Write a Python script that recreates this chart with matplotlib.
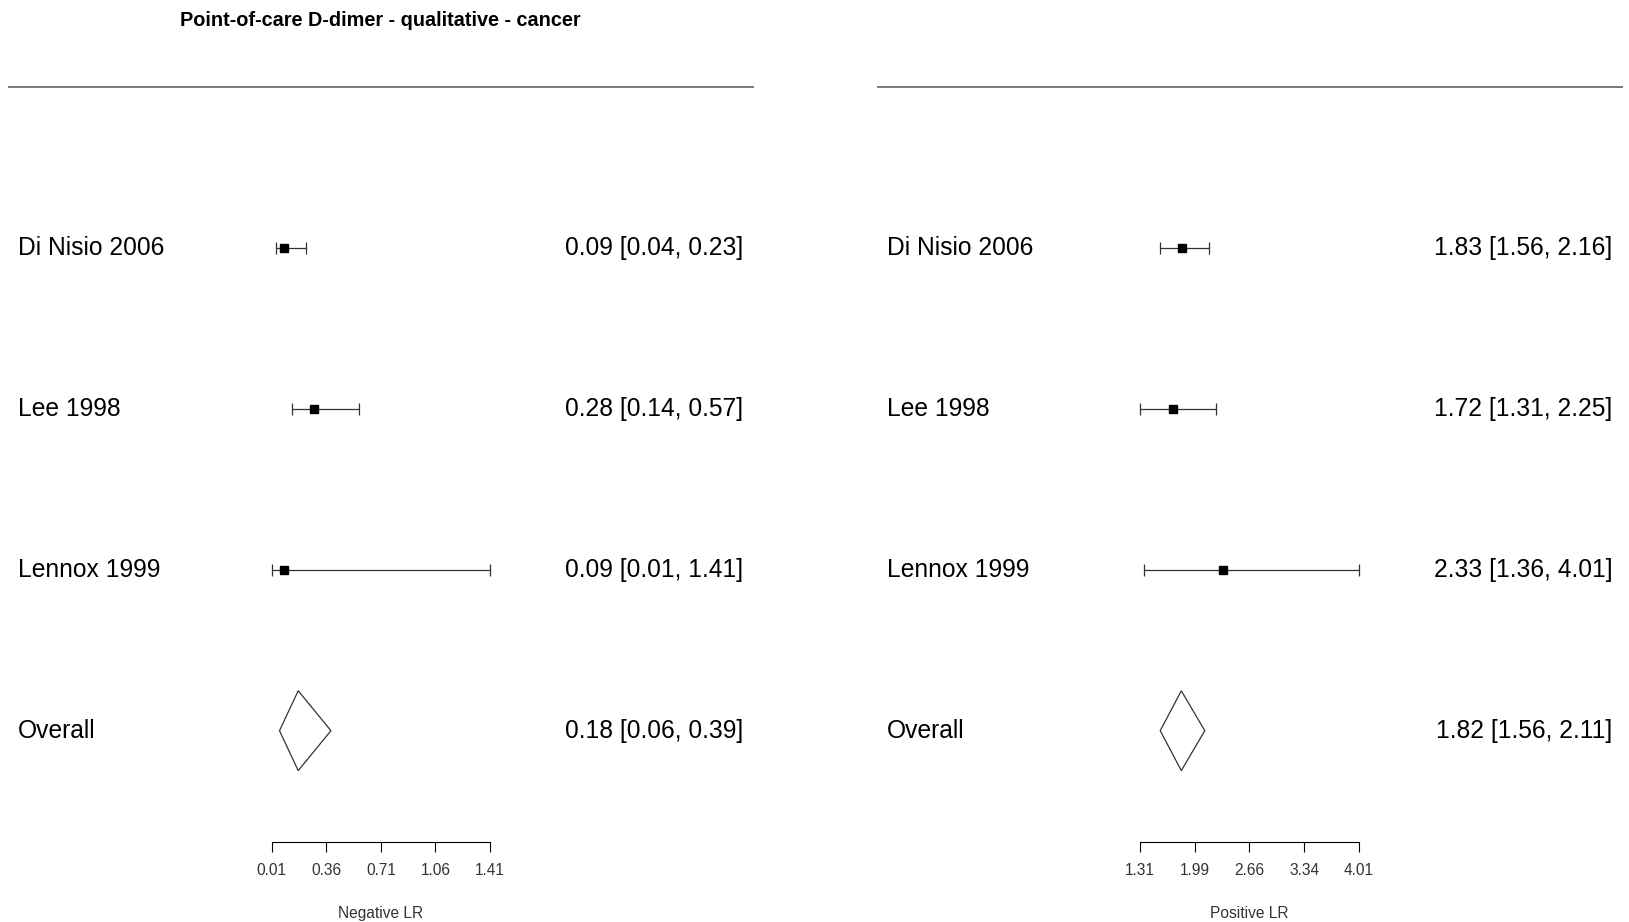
import matplotlib
matplotlib.use("Agg")
import matplotlib.pyplot as plt
from matplotlib.patches import Polygon

plt.rcParams['font.family'] = ['Liberation Sans', 'DejaVu Sans']

title = "Point-of-care D-dimer - qualitative - cancer"
studies = ["Di Nisio 2006", "Lee 1998", "Lennox 1999"]
rows = [4, 3, 2]  # top to bottom, overall at row 1

# negative LR
neg_est = [0.09, 0.28, 0.09]
neg_lo = [0.04, 0.14, 0.01]
neg_hi = [0.23, 0.57, 1.41]
neg_overall = [0.18, 0.06, 0.39]
neg_ticks = [0.01, 0.36, 0.71, 1.06, 1.41]

# positive LR
pos_est = [1.83, 1.72, 2.33]
pos_lo = [1.56, 1.31, 1.36]
pos_hi = [2.16, 2.25, 4.01]
pos_overall = [1.82, 1.56, 2.11]
pos_ticks = [1.31, 1.99, 2.66, 3.34, 4.01]

W, H = 1629, 922
fig = plt.figure(figsize=(W / 100, H / 100), dpi=100)

ylim = (4 - (H - 247.7) / 161, 4 + 247.7 / 161)
axis_y = 0.311
lab_y = -0.134
FS = 17.7
TFS = 11.2


def panel(left_px, right_px, ticks, tick_px, est, lo, hi, overall, xlabel):
    ax = fig.add_axes([left_px / W, 0, (right_px - left_px) / W, 1])
    t0, t1 = ticks[0], ticks[-1]
    scale = (tick_px[1] - tick_px[0]) / (t1 - t0)
    ax.set_xlim(t0 - (tick_px[0] - left_px) / scale, t1 + (right_px - tick_px[1]) / scale)
    ax.set_ylim(*ylim)
    for s in ["top", "left", "right"]:
        ax.spines[s].set_visible(False)
    ax.patch.set_visible(False)
    ax.spines["bottom"].set_position(("data", axis_y))
    ax.spines["bottom"].set_bounds(t0, t1)
    ax.spines["bottom"].set_linewidth(0.8)
    ax.set_yticks([])
    ax.set_xticks(ticks)
    ax.set_xticklabels(["%.2f" % t for t in ticks], fontsize=TFS, color="#333333")
    ax.tick_params(axis="x", length=7.2, width=0.8, pad=8.5)

    ax.axhline(5, color="#555555", lw=1.1)

    ax.errorbar(est, rows, xerr=[[e - l for e, l in zip(est, lo)], [h - e for e, h in zip(est, hi)]],
                fmt="s", color="black", ms=6, ecolor="#333333", elinewidth=0.9, capsize=4, capthick=0.9)
    c, l, h = overall
    dh = 0.248
    ax.add_patch(Polygon([[l, 1], [c, 1 + dh], [h, 1], [c, 1 - dh]], closed=True,
                         fill=False, edgecolor="#333333", lw=0.9))

    tr = ax.get_yaxis_transform()
    for r, name, e, a, b in zip(rows, studies, est, lo, hi):
        ax.text(0.0135, r, name, transform=tr, fontsize=FS, va="center", ha="left")
        ax.text(0.986, r, "%.2f [%.2f, %.2f]" % (e, a, b), transform=tr,
                fontsize=FS, va="center", ha="right")
    ax.text(0.0135, 1, "Overall", transform=tr, fontsize=FS, va="center", ha="left")
    ax.text(0.986, 1, "%.2f [%.2f, %.2f]" % (c, l, h), transform=tr,
            fontsize=FS, va="center", ha="right")
    ax.text((t0 + t1) / 2, lab_y, xlabel, fontsize=TFS, ha="center", va="center", color="#333333")
    return ax


panel(8.3, 754, neg_ticks, (271.7, 490), neg_est, neg_lo, neg_hi, neg_overall, "Negative LR")
panel(877, 1623, pos_ticks, (1140, 1358.7), pos_est, pos_lo, pos_hi, pos_overall, "Positive LR")

fig.text(380 / W, 1 - 20.5 / H, title, fontsize=14.3, fontweight="bold", ha="center", va="center")

fig.savefig("out.png", dpi=100)
